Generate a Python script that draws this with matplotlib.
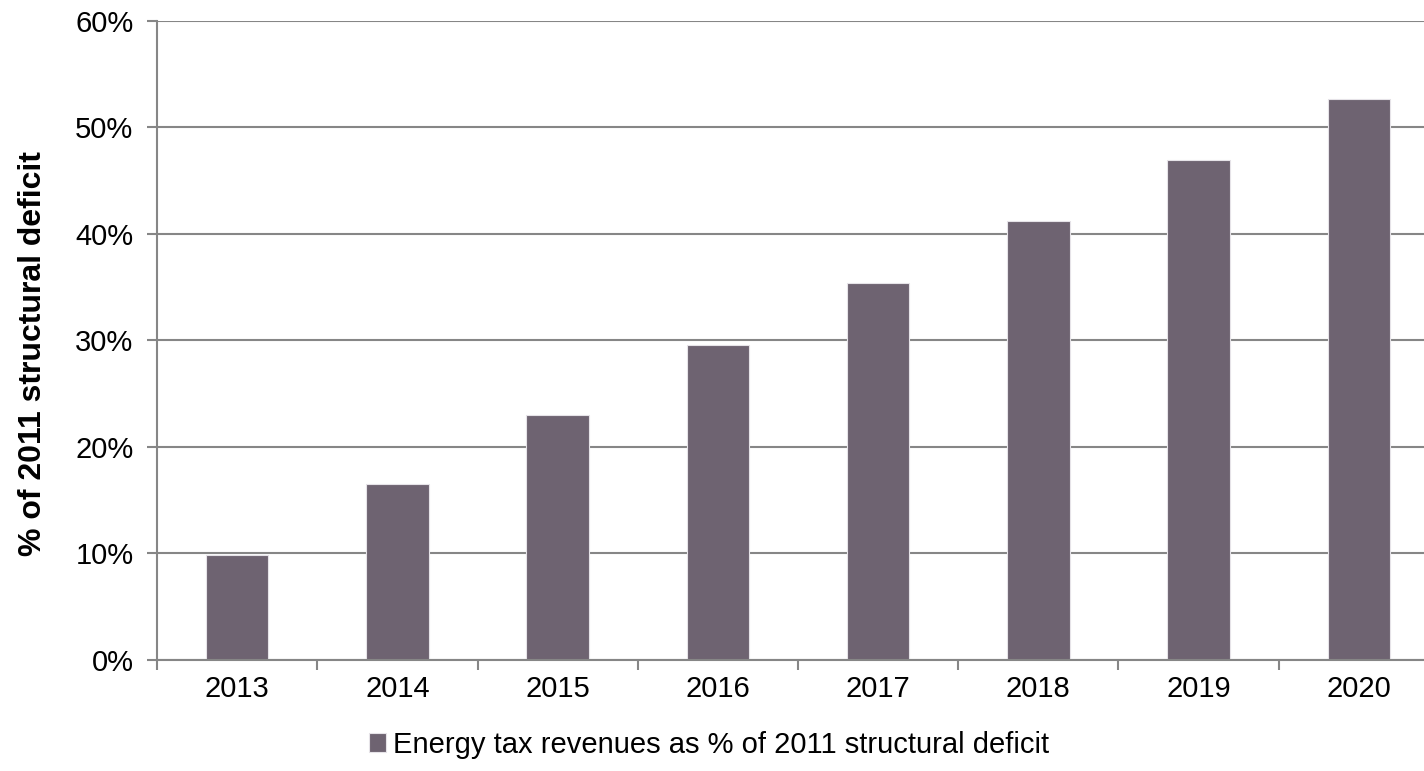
import matplotlib
matplotlib.use('Agg')
import matplotlib.pyplot as plt
from matplotlib.ticker import PercentFormatter

years  = ['2013', '2014', '2015', '2016', '2017', '2018', '2019', '2020']
shares = [9.9, 16.5, 23.0, 29.6, 35.4, 41.2, 46.9, 52.7]
series_name = 'Energy tax revenues as % of 2011 structural deficit'

bar_color  = '#6e6371'
grid_color = '#868686'

plt.rcParams['font.family'] = ['Liberation Sans', 'DejaVu Sans']

fig = plt.figure(figsize=(14.24, 7.71), dpi=100)
ax = fig.add_axes([0.1103, 0.1440, 0.9002, 0.8288])

x = range(len(years))
ax.bar(x, shares, width=0.39, color=bar_color, edgecolor='#e6e3e8', linewidth=0.8,
       label=series_name, zorder=3)

ax.set_xlim(-0.5, len(years) - 0.5)
ax.set_ylim(0, 60)
ax.set_yticks(range(0, 61, 10))
ax.yaxis.set_major_formatter(PercentFormatter(decimals=0))
ax.set_xticks(list(x))
ax.set_xticklabels(years)
ax.set_xticks([i - 0.5 for i in range(len(years) + 1)], minor=True)

ax.grid(axis='y', color=grid_color, linewidth=1.5, zorder=0)
for side in ['top', 'right', 'bottom']:
    ax.spines[side].set_visible(False)
ax.spines['left'].set_color(grid_color)
ax.spines['left'].set_linewidth(1.5)
ax.axhline(0, color=grid_color, linewidth=1.5, zorder=4, clip_on=False)

ax.tick_params(axis='y', length=7, width=1.5, color=grid_color, labelsize=21, pad=10)
ax.tick_params(axis='x', which='major', length=0, labelsize=21, pad=11)
ax.tick_params(axis='x', which='minor', length=7, width=1.5, color=grid_color)

ax.set_ylabel('% of 2011 structural deficit', fontsize=23, fontweight='bold')
ax.yaxis.set_label_coords(-0.085, 0.479)

fig.legend(loc='center', bbox_to_anchor=(0.498, 0.034), frameon=False, fontsize=21,
           handlelength=0.6, handleheight=0.6, handletextpad=0.25)

fig.savefig('out.png', dpi=100)
